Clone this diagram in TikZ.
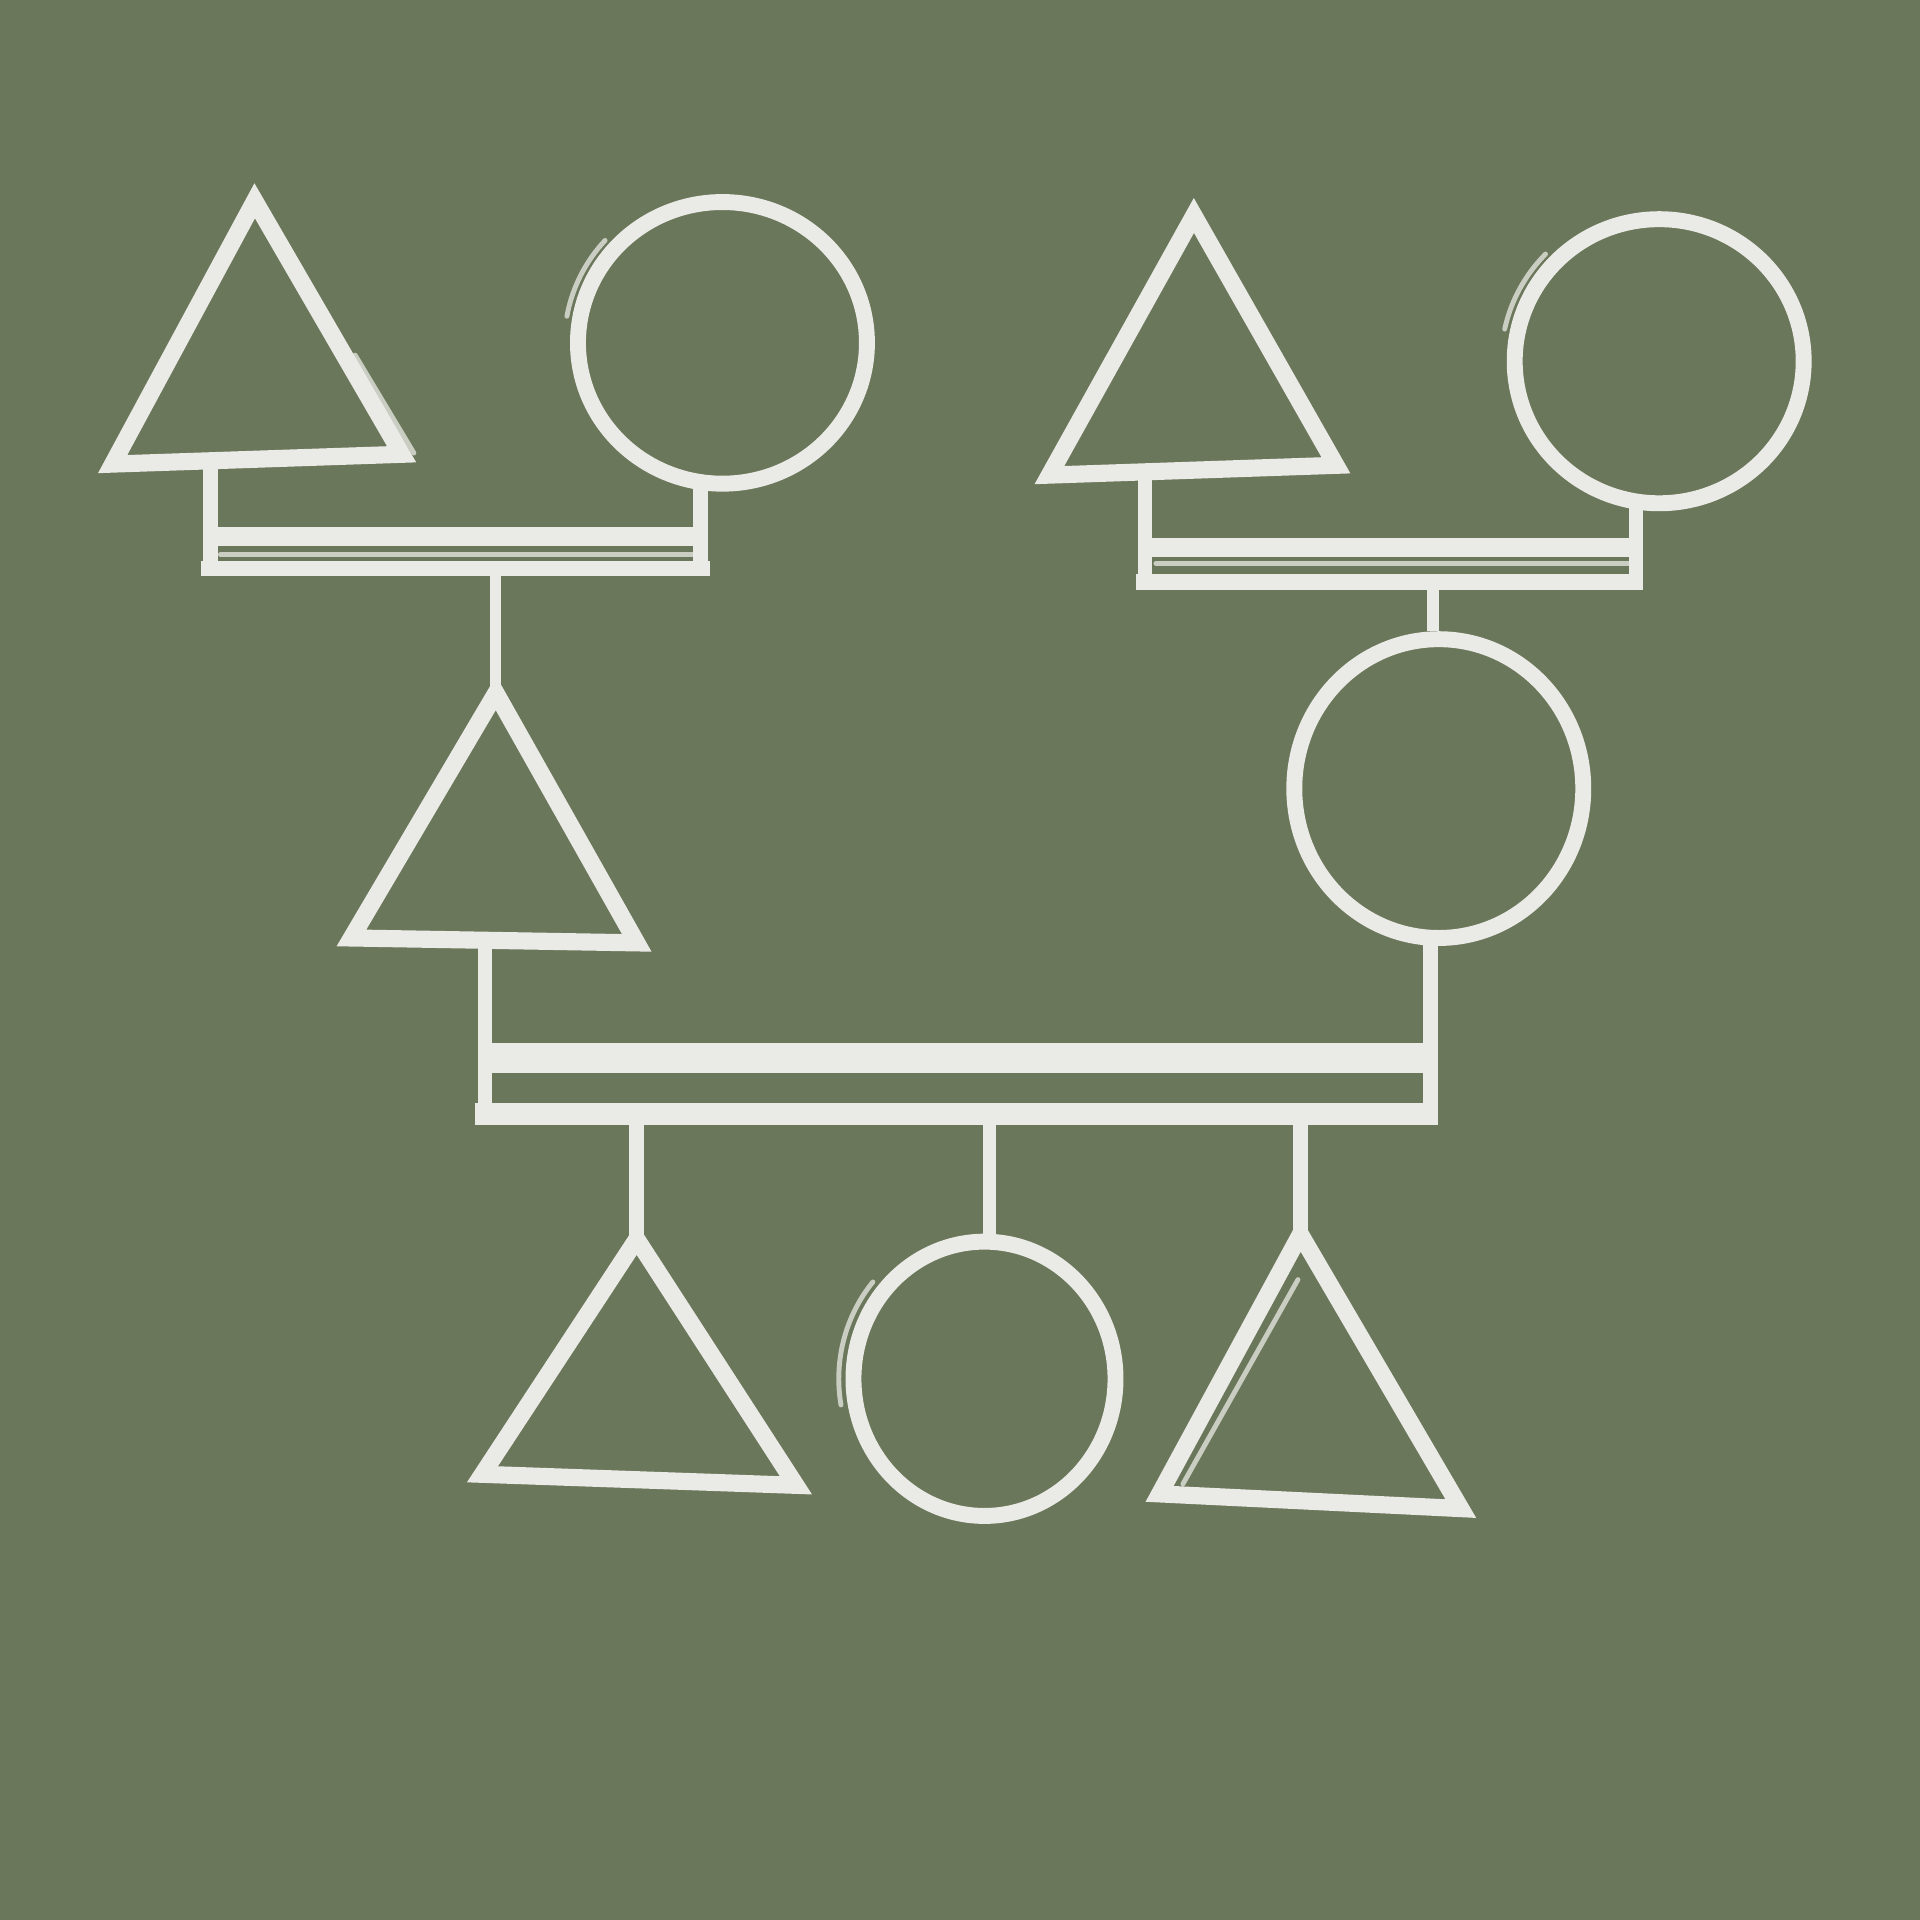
\documentclass[tikz,border=0pt]{standalone}
\usetikzlibrary{shapes.geometric}
\definecolor{board}{RGB}{107,119,90}
\definecolor{chalk}{RGB}{234,234,230}
\tikzset{
  chalkline/.style={draw=chalk, line width=14pt, line cap=round, line join=miter, miter limit=3},
  thinchalk/.style={draw=chalk, line width=4pt, opacity=0.75, line cap=round},
  stem/.style={draw=chalk, line width=12pt, line cap=butt},
  barline/.style={draw=chalk, line width=15pt, line cap=butt},
  fem/.style={ellipse, draw=chalk, line width=13pt, inner sep=0pt},
}
\begin{document}
\begin{tikzpicture}[x=1pt,y=-1pt]
\fill[board] (0,0) rectangle (1568,1568);
\useasboundingbox (0,0) rectangle (1568,1568);

% ---------- generation 1, left couple ----------
\coordinate (t1a) at (208,164);
\coordinate (t1l) at (92,379);
\coordinate (t1r) at (328,371);
\draw[chalkline] (t1a) -- (t1l) -- (t1r) -- cycle;
\draw[thinchalk] (290,290) -- (338,370);
\node[fem, minimum width=236pt, minimum height=230pt] (c1) at (590,280) {};
\draw[thinchalk] (c1.center) ++(138:129pt and 125pt) arc[start angle=138, end angle=170, x radius=129pt, y radius=125pt];

\coordinate (b1tl) at (172,378);
\coordinate (b1c) at (405,468);
\draw[stem] (b1tl) -- (172,468);
\draw[stem] (572,392) -- (572,470);
\draw[barline] (172,438) -- (568,438);
\draw[thinchalk] (180,453) -- (566,453);
\draw[barline, line width=12pt] (164,464) -- (580,464);

% child of left couple
\coordinate (t2a) at (405,566);
\coordinate (t2l) at (287,766);
\coordinate (t2r) at (520,770);
\draw[stem, line width=9pt] (b1c) -- (t2a);
\draw[chalkline] (t2a) -- (t2l) -- (t2r) -- cycle;

% ---------- generation 1, right couple ----------
\coordinate (t3a) at (975,176);
\coordinate (t3l) at (857,388);
\coordinate (t3r) at (1091,380);
\draw[chalkline] (t3a) -- (t3l) -- (t3r) -- cycle;
\node[fem, minimum width=236pt, minimum height=232pt] (c3) at (1355,295) {};
\draw[thinchalk] (c3.center) ++(136:129pt and 126pt) arc[start angle=136, end angle=168, x radius=129pt, y radius=126pt];

\coordinate (b2c) at (1170,482);
\draw[stem] (935,388) -- (935,478);
\draw[stem] (1336,408) -- (1336,480);
\draw[barline] (935,447) -- (1332,447);
\draw[thinchalk] (944,460) -- (1330,460);
\draw[barline, line width=13pt] (928,475) -- (1342,475);

% child of right couple
\node[fem, minimum width=236pt, minimum height=244pt] (c4) at (1175,644) {};
\draw[stem, line width=10pt] (b2c) -- (b2c |- c4.north);

% ---------- marriage of the two children ----------
\draw[stem] (396,770) -- (396,918);
\draw[stem] (1168,766) -- (1168,918);
\draw[barline, line width=24pt] (396,864) -- (1168,864);
\draw[barline, line width=18pt] (388,910) -- (1174,910);
\coordinate (k1) at (520,918);
\coordinate (k2) at (808,918);
\coordinate (k3) at (1062,918);

% ---------- generation 3 ----------
\coordinate (t4a) at (520,1012);
\coordinate (t4l) at (394,1204);
\coordinate (t4r) at (650,1213);
\draw[stem] (k1) -- (t4a);
\draw[chalkline] (t4a) -- (t4l) -- (t4r) -- cycle;

\node[fem, minimum width=214pt, minimum height=224pt] (c5) at (804,1126) {};
\draw[stem, line width=11pt] (k2) -- (k2 |- c5.north);
\draw[thinchalk] (c5.center) ++(140:119pt and 123pt) arc[start angle=140, end angle=190, x radius=119pt, y radius=123pt];

\coordinate (t5a) at (1062,1008);
\coordinate (t5l) at (947,1220);
\coordinate (t5r) at (1193,1232);
\draw[stem] (k3) -- (t5a);
\draw[chalkline] (t5a) -- (t5l) -- (t5r) -- cycle;
\draw[thinchalk] (1060,1045) -- (966,1212);
\end{tikzpicture}
\end{document}
